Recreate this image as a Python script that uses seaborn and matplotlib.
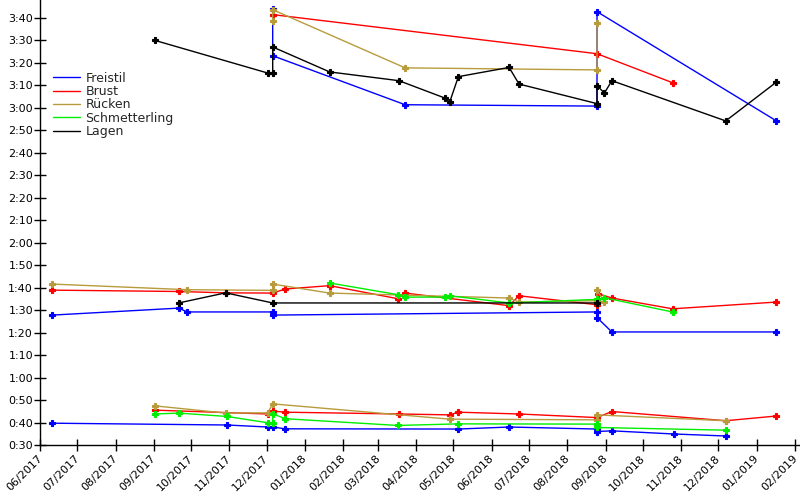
import matplotlib
matplotlib.use("Agg")
import matplotlib.pyplot as plt
import matplotlib.dates as mdates
import matplotlib.transforms as mtransforms
from matplotlib.ticker import FuncFormatter, MultipleLocator
from matplotlib.lines import Line2D
import seaborn as sns
import pandas as pd

# ---------------- data (date, seconds) ----------------
styles = ["Freistil", "Brust", "Rücken", "Schmetterling", "Lagen"]
colors = ["#0000ff", "#ff0000", "#b89b3c", "#00ee00", "#000000"]

# 50 m
freistil_50_dates = ["2017-06-11", "2017-10-30", "2017-12-02", "2017-12-06", "2017-12-16", "2018-05-05",
                     "2018-06-15", "2018-08-25", "2018-08-25", "2018-09-06", "2018-10-26", "2018-12-07"]
freistil_50_secs = [39.7, 38.9, 38.0, 38.0, 37.2, 37.1, 38.0, 37.1, 36.0, 36.3, 34.9, 34.0]

brust_50_dates = ["2017-09-02", "2017-12-02", "2017-12-06", "2017-12-16", "2018-03-18", "2018-04-28",
                  "2018-05-05", "2018-06-23", "2018-08-25", "2018-09-06", "2018-12-07", "2019-01-17"]
brust_50_secs = [45.5, 43.8, 45.1, 44.6, 43.8, 43.4, 44.6, 43.8, 42.2, 44.9, 40.8, 42.9]

ruecken_50_dates = ["2017-09-02", "2017-10-29", "2017-12-02", "2017-12-06", "2018-04-28", "2018-08-25",
                    "2018-08-25", "2018-12-07"]
ruecken_50_secs = [47.4, 44.2, 44.3, 48.3, 41.5, 41.2, 43.4, 40.8]

schm_50_dates = ["2017-09-02", "2017-09-21", "2017-10-30", "2017-12-02", "2017-12-06", "2017-12-06",
                 "2017-12-16", "2018-03-17", "2018-05-05", "2018-08-25", "2018-08-25", "2018-12-07"]
schm_50_secs = [43.8, 44.2, 42.7, 39.9, 39.9, 43.9, 41.7, 38.7, 39.4, 39.3, 37.8, 36.6]

# 100 m
freistil_100_dates = ["2017-06-11", "2017-09-21", "2017-09-28", "2017-12-06", "2017-12-06", "2018-08-25",
                      "2018-08-25", "2018-09-06", "2019-01-17"]
freistil_100_secs = [87.8, 90.9, 89.2, 89.2, 87.8, 89.2, 86.7, 80.3, 80.3]

brust_100_dates = ["2017-06-11", "2017-09-21", "2017-10-29", "2017-12-06", "2017-12-16", "2018-01-21",
                   "2018-03-17", "2018-03-23", "2018-06-15", "2018-06-23", "2018-08-25", "2018-08-26",
                   "2018-09-06", "2018-10-25", "2019-01-17"]
brust_100_secs = [98.9, 98.3, 97.7, 97.6, 99.4, 100.9, 95.1, 97.6, 92.0, 96.4, 92.4, 97.3, 95.4, 90.6, 93.6]

ruecken_100_dates = ["2017-06-11", "2017-09-28", "2017-12-06", "2017-12-06", "2018-01-21", "2018-06-15",
                     "2018-06-23", "2018-08-25", "2018-08-25", "2018-08-31"]
ruecken_100_secs = [101.6, 99.1, 98.8, 101.6, 97.6, 95.4, 93.6, 94.2, 98.8, 93.7]

schm_100_dates = ["2018-01-21", "2018-03-17", "2018-03-23", "2018-04-24", "2018-04-28", "2018-06-15",
                  "2018-08-25", "2018-08-31", "2018-10-25"]
schm_100_secs = [102.1, 96.9, 95.8, 95.8, 96.4, 93.2, 94.8, 95.5, 89.2]

lagen_100_dates = ["2017-09-21", "2017-10-29", "2017-12-06", "2018-08-25"]
lagen_100_secs = [93.2, 97.7, 93.2, 93.2]

# 200 m
freistil_200_dates = ["2017-12-06", "2017-12-06", "2018-03-23", "2018-08-25", "2018-08-25", "2019-01-17"]
freistil_200_secs = [224.0, 203.2, 181.4, 180.8, 222.8, 174.2]

brust_200_dates = ["2017-12-06", "2018-08-25", "2018-10-25"]
brust_200_secs = [221.5, 204.1, 191.2]

ruecken_200_dates = ["2017-12-06", "2017-12-06", "2018-03-23", "2018-08-25", "2018-08-25"]
ruecken_200_secs = [218.7, 223.7, 197.8, 196.9, 217.8]

lagen_200_dates = ["2017-09-02", "2017-12-02", "2017-12-06", "2017-12-06", "2018-01-21", "2018-03-18",
                   "2018-04-24", "2018-04-28", "2018-05-05", "2018-06-15", "2018-06-23", "2018-08-25",
                   "2018-08-25", "2018-08-31", "2018-09-06", "2018-12-07", "2019-01-17"]
lagen_200_secs = [210.0, 195.5, 195.5, 207.1, 196.0, 192.1, 184.4, 182.6, 193.9, 198.0, 190.6, 181.9,
                  189.9, 186.6, 192.1, 174.2, 191.5]

series = [
    ("Freistil", "50", freistil_50_dates, freistil_50_secs),
    ("Brust", "50", brust_50_dates, brust_50_secs),
    ("Rücken", "50", ruecken_50_dates, ruecken_50_secs),
    ("Schmetterling", "50", schm_50_dates, schm_50_secs),
    ("Freistil", "100", freistil_100_dates, freistil_100_secs),
    ("Brust", "100", brust_100_dates, brust_100_secs),
    ("Rücken", "100", ruecken_100_dates, ruecken_100_secs),
    ("Schmetterling", "100", schm_100_dates, schm_100_secs),
    ("Lagen", "100", lagen_100_dates, lagen_100_secs),
    ("Freistil", "200", freistil_200_dates, freistil_200_secs),
    ("Brust", "200", brust_200_dates, brust_200_secs),
    ("Rücken", "200", ruecken_200_dates, ruecken_200_secs),
    ("Lagen", "200", lagen_200_dates, lagen_200_secs),
]

rows = []
for style, dist, ds, ss in series:
    for d, s in zip(ds, ss):
        rows.append({"Datum": pd.Timestamp(d), "Zeit": s, "Lage": style, "Serie": f"{style} {dist}"})
df = pd.DataFrame(rows)

# ---------------- plot ----------------
sns.set_theme(style="white")
plt.rcParams["font.family"] = ["DejaVu Sans"]

fig = plt.figure(figsize=(8, 5), dpi=100)
ax = fig.add_axes([0.05, 0.11, 0.95, 0.89])

palette = dict(zip(styles, colors))
sns.lineplot(data=df, x="Datum", y="Zeit", hue="Lage", units="Serie", estimator=None,
             sort=False, palette=palette, hue_order=styles, ax=ax, legend=False,
             linewidth=1.0, marker="P", markersize=4, markeredgewidth=0.8)
for ln in ax.lines:
    ln.set_markeredgecolor(ln.get_color())
    ln.set_markerfacecolor(ln.get_color())

ax.set_xlim(pd.Timestamp("2017-06-01"), pd.Timestamp("2019-02-05"))
ax.set_ylim(30, 228)

ax.yaxis.set_major_locator(MultipleLocator(10))
ax.yaxis.set_major_formatter(FuncFormatter(lambda v, p: f"{int(v // 60)}:{int(round(v % 60)):02d}"))
ax.xaxis.set_major_locator(mdates.MonthLocator())
ax.xaxis.set_major_formatter(mdates.DateFormatter("%m/%Y"))

for s in ["top", "right"]:
    ax.spines[s].set_visible(False)
for s in ["left", "bottom"]:
    ax.spines[s].set_color("black")
    ax.spines[s].set_linewidth(1.0)

ax.tick_params(axis="both", direction="inout", length=8, width=1, color="black",
               labelsize=8, labelcolor="black", bottom=True, left=True)
ax.tick_params(axis="y", pad=1)
ax.tick_params(axis="x", pad=2)
shift = mtransforms.ScaledTranslation(-3 / 100, 0, fig.dpi_scale_trans)
for lab in ax.get_xticklabels():
    lab.set_rotation(45)
    lab.set_ha("right")
    lab.set_rotation_mode("anchor")
    lab.set_transform(lab.get_transform() + shift)

ax.set_xlabel("")
ax.set_ylabel("")
ax.grid(False)

handles = [Line2D([], [], color=c, lw=1.0) for c in colors]
fig.legend(handles, styles, loc="upper left", bbox_to_anchor=(0.066, 0.857),
           bbox_transform=fig.transFigure, frameon=False, fontsize=9,
           handlelength=2.2, handletextpad=0.4, labelspacing=0.03,
           borderpad=0, borderaxespad=0)

fig.savefig("out.png", dpi=100)
